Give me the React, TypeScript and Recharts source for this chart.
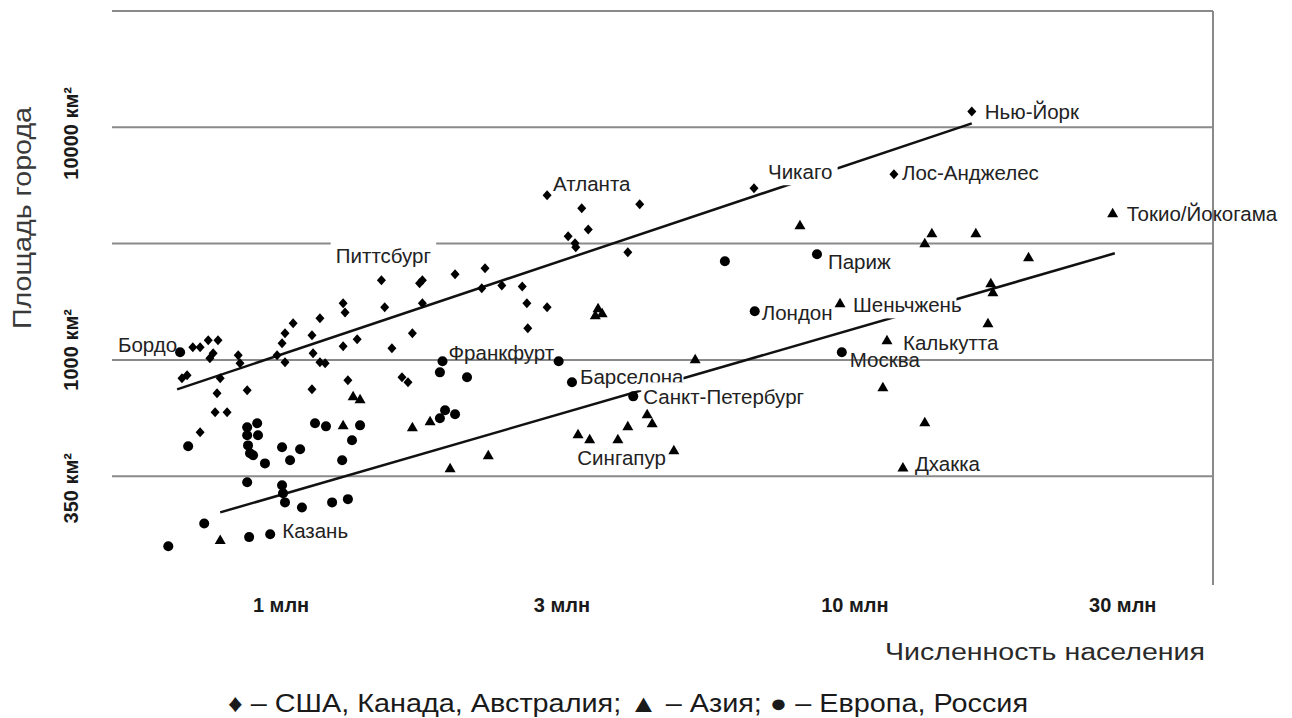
import React from 'react';
import { ScatterChart, Scatter, XAxis, YAxis, ReferenceLine } from 'recharts';

type Pt = [number, number, string?];

// population (mln), area (km²), optional city name
const usa: Pt[] = [
  [16.3, 11700, 'Нью-Йорк'], [11.9, 6280, 'Лос-Анджелес'], [6.76, 5470, 'Чикаго'], [2.93, 5100, 'Атланта'],
  [3.37, 4490], [4.26, 4670], [3.46, 3640], [3.19, 3400], [3.28, 3170], [3.29, 3050], [4.06, 2900],
  [1.5, 2200, 'Питтсбург'], [1.75, 2135], [1.77, 2200], [2.02, 2335], [2.28, 2475], [2.25, 2030],
  [2.44, 2090], [2.65, 2070], [1.285, 1750], [1.295, 1600], [1.52, 1683], [1.77, 1750], [2.7, 1750],
  [2.93, 1683], [2.71, 1367], [1.7, 1302], [1.36, 1226], [1.285, 1144], [1.565, 1121], [1.05, 1437],
  [1.016, 1302], [1.004, 1179], [0.984, 1047], [1.016, 976], [1.133, 1276], [1.17, 1510], [1.138, 1068],
  [1.17, 976], [1.195, 967], [0.7, 1133], [0.721, 1133], [0.745, 1214], [0.775, 1214], [0.76, 1068],
  [0.75, 1016], [0.67, 834], [0.684, 859], [0.782, 834], [0.772, 718], [0.872, 740], [0.766, 595],
  [0.804, 595], [0.841, 1047], [0.847, 967], [1.31, 817], [0.721, 488], [1.133, 747], [1.63, 842],
  [1.67, 801],
];

const europe: Pt[] = [
  [0.665, 1078, 'Бордо'], [6.01, 2654], [8.72, 2845, 'Париж'], [6.78, 1618, 'Лондон'], [9.64, 1078, 'Москва'],
  [1.92, 986, 'Франкфурт'], [3.07, 986], [3.24, 801, 'Барселона'], [4.15, 697, 'Санкт-Петербург'],
  [1.9, 884], [2.12, 842], [1.94, 607], [2.02, 584], [1.9, 561], [1.376, 523], [1.332, 451], [1.28, 370],
  [1.147, 534], [1.199, 518], [0.687, 425], [0.872, 513], [0.908, 534], [0.872, 474], [0.911, 474],
  [0.875, 429], [0.882, 397], [0.893, 389], [0.937, 359], [1.004, 421], [1.037, 370], [1.08, 413],
  [0.872, 298], [1.004, 289], [1.008, 267], [1.016, 244], [1.088, 232], [1.229, 244], [1.31, 252],
  [0.733, 198], [0.634, 158], [0.879, 173], [0.957, 178, 'Казань'],
];

const asia: Pt[] = [
  [0.782, 168], [1.338, 697], [1.376, 677], [1.285, 523], [1.7, 513], [1.826, 545], [1.98, 342],
  [2.31, 389], [3.32, 479], [3.48, 456], [3.9, 456], [4.06, 518], [4.39, 584], [4.48, 534],
  [4.89, 409, 'Сингапур'], [3.6, 1667], [3.56, 1555], [3.66, 1586], [5.33, 1006], [8.14, 3790],
  [9.57, 1750, 'Шеньчжень'], [11.57, 1214, 'Калькутта'], [11.38, 762], [13.48, 539], [12.34, 345, 'Дхакка'],
  [13.87, 3503], [13.48, 3172], [16.57, 3503], [20.5, 2761], [17.6, 2135], [17.75, 1953], [17.4, 1437],
  [28.8, 4268, 'Токио/Йокогама'],
];

const trendUpper: [number, number][] = [[0.657, 747], [16.3, 10400]];
const trendLower: [number, number][] = [[0.782, 221], [29.05, 2873]];

const xDomain: [number, number] = [0.505, 43.2];
const yDomain: [number, number] = [107.7, 31623];
const xTicks = [1, 3, 10, 30];
const xTickLabels = ['1 млн', '3 млн', '10 млн', '30 млн'];
const yGridValues = [316.2, 1000, 3162, 10000, 31623];
const yTicks = [316.2, 1000, 10000];
const yTickLabels = ['350 км²', '1000 км²', '10000 км²'];

const yTitle = 'Площадь города';
const xTitle = 'Численность населения';
const legendText = '♦ – США, Канада, Австралия; ▲ – Азия; ● – Европа, Россия';

// ---- styling (positions / offsets kept apart from data) ----
const FONT = '"Liberation Sans", Arial, Helvetica, sans-serif';
const LABEL_FS = 20.5;
const labelStyle: Record<string, { dx: number; dy: number; anchor?: 'start' | 'middle' | 'end'; box?: boolean }> = {
  'Нью-Йорк': { dx: 13, dy: 0 },
  'Лос-Анджелес': { dx: 8, dy: -2 },
  'Чикаго': { dx: 14, dy: -17, box: true },
  'Атланта': { dx: 6, dy: -12 },
  'Питтсбург': { dx: 2, dy: -25, anchor: 'middle', box: true },
  'Бордо': { dx: -3, dy: -8, anchor: 'end' },
  'Париж': { dx: 11, dy: 7 },
  'Лондон': { dx: 7, dy: 1 },
  'Шеньчжень': { dx: 13, dy: 1, box: true },
  'Калькутта': { dx: 16, dy: 2 },
  'Москва': { dx: 8, dy: 7 },
  'Дхакка': { dx: 12, dy: -4 },
  'Токио/Йокогама': { dx: 14, dy: 0 },
  'Франкфурт': { dx: 6, dy: -9 },
  'Барселона': { dx: 8, dy: -6, box: true },
  'Санкт-Петербург': { dx: 10, dy: 0, box: true },
  'Сингапур': { dx: -8, dy: 7, anchor: 'end' },
  'Казань': { dx: 12, dy: -4 },
};
const yTickOffset: Record<string, number> = { '350 км²': 12, '1000 км²': -10, '10000 км²': 6 };
const xTickDx: Record<string, number> = { '3 млн': 9, '10 млн': 4 };

const toRows = (arr: Pt[]) => arr.map(([pop, area, name]) => ({ pop, area, name }));
const usaRows = toRows(usa);
const europeRows = toRows(europe);
const asiaRows = toRows(asia);
const labelRows = [...usaRows, ...europeRows, ...asiaRows].filter((r) => r.name);

function Diamond(props: any) {
  const { cx, cy } = props;
  if (cx == null || cy == null) return null;
  return <polygon points={`${cx},${cy - 5} ${cx + 4.5},${cy} ${cx},${cy + 5} ${cx - 4.5},${cy}`} fill="#000" />;
}
function Dot(props: any) {
  const { cx, cy } = props;
  if (cx == null || cy == null) return null;
  return <circle cx={cx} cy={cy} r={5} fill="#000" />;
}
function Tri(props: any) {
  const { cx, cy } = props;
  if (cx == null || cy == null) return null;
  return <polygon points={`${cx},${cy - 5.5} ${cx + 5.5},${cy + 4} ${cx - 5.5},${cy + 4}`} fill="#000" />;
}
function CityLabel(props: any) {
  const { cx, cy, payload } = props;
  if (cx == null || cy == null || !payload) return null;
  const name: string = payload.name;
  const cfg = labelStyle[name];
  if (!cfg) return null;
  const fs = LABEL_FS;
  const w = name.length * fs * 0.55;
  const anchor = cfg.anchor || 'start';
  const tx = cx + cfg.dx;
  const ty = cy + cfg.dy;
  const bx = anchor === 'start' ? tx - 2 : anchor === 'end' ? tx - w - 2 : tx - w / 2 - 2;
  return (
    <g>
      {cfg.box && <rect x={bx} y={ty - 14} width={w + 4} height={28} fill="#fff" />}
      <text x={tx} y={ty} textAnchor={anchor} dominantBaseline="central" fontSize={fs} fontFamily={FONT} fill="#222">
        {name}
      </text>
    </g>
  );
}
function XTick(props: any) {
  const { x, payload } = props;
  const i = xTicks.indexOf(payload.value);
  const label = xTickLabels[i];
  return (
    <text x={x + (xTickDx[label] || 0)} y={612} textAnchor="middle" fontSize={20} fontWeight="bold" fontFamily={FONT} fill="#1a1a1a">
      {label}
    </text>
  );
}
function YTick(props: any) {
  const { y, payload } = props;
  const i = yTicks.indexOf(payload.value);
  const label = yTickLabels[i];
  if (!label) return null;
  const cy = y + (yTickOffset[label] || 0);
  return (
    <text
      x={71}
      y={cy}
      transform={`rotate(-90 71 ${cy})`}
      textAnchor="middle"
      dominantBaseline="central"
      fontSize={20}
      fontWeight="bold"
      fontFamily={FONT}
      fill="#1a1a1a"
    >
      {label}
    </text>
  );
}

export default function App() {
  return (
    <div style={{ position: 'absolute', left: 0, top: 0, width: 1292, height: 718, background: '#fff' }}>
      <ScatterChart width={1292} height={718} margin={{ top: 11, right: 79, left: 12, bottom: 103 }}>
        <XAxis
          type="number"
          dataKey="pop"
          scale="log"
          domain={xDomain}
          ticks={xTicks}
          tick={<XTick />}
          axisLine={false}
          tickLine={false}
          height={30}
          interval={0}
        />
        <YAxis
          type="number"
          dataKey="area"
          scale="log"
          domain={yDomain}
          ticks={yTicks}
          tick={<YTick />}
          axisLine={false}
          tickLine={false}
          width={100}
          interval={0}
        />
        {yGridValues.map((v) => (
          <ReferenceLine key={'g' + v} y={v} stroke="#8a8a8a" strokeWidth={2} ifOverflow="visible" />
        ))}
        <ReferenceLine x={xDomain[1]} stroke="#8a8a8a" strokeWidth={2} ifOverflow="visible" />
        <ReferenceLine
          segment={[{ x: trendUpper[0][0], y: trendUpper[0][1] }, { x: trendUpper[1][0], y: trendUpper[1][1] }]}
          stroke="#111"
          strokeWidth={2.5}
          ifOverflow="visible"
        />
        <ReferenceLine
          segment={[{ x: trendLower[0][0], y: trendLower[0][1] }, { x: trendLower[1][0], y: trendLower[1][1] }]}
          stroke="#111"
          strokeWidth={2.5}
          ifOverflow="visible"
        />
        <Scatter data={labelRows} shape={<CityLabel />} isAnimationActive={false} />
        <Scatter data={usaRows} shape={<Diamond />} isAnimationActive={false} />
        <Scatter data={europeRows} shape={<Dot />} isAnimationActive={false} />
        <Scatter data={asiaRows} shape={<Tri />} isAnimationActive={false} />
      </ScatterChart>
      <svg width={1292} height={718} style={{ position: 'absolute', left: 0, top: 0, pointerEvents: 'none' }}>
        <text
          x={22}
          y={218}
          transform="rotate(-90 22 218)"
          textAnchor="middle"
          dominantBaseline="central"
          fontSize={25}
          fontFamily={FONT}
          fill="#3a3a3a"
          textLength={222}
          lengthAdjust="spacingAndGlyphs"
        >
          {yTitle}
        </text>
        <text x={885} y={660} fontSize={23} fontFamily={FONT} fill="#2a2a2a" textLength={320} lengthAdjust="spacingAndGlyphs">
          {xTitle}
        </text>
        <text x={228} y={712} fontSize={25} fontFamily={FONT} fill="#1a1a1a" textLength={800} lengthAdjust="spacingAndGlyphs">
          {legendText}
        </text>
      </svg>
    </div>
  );
}
